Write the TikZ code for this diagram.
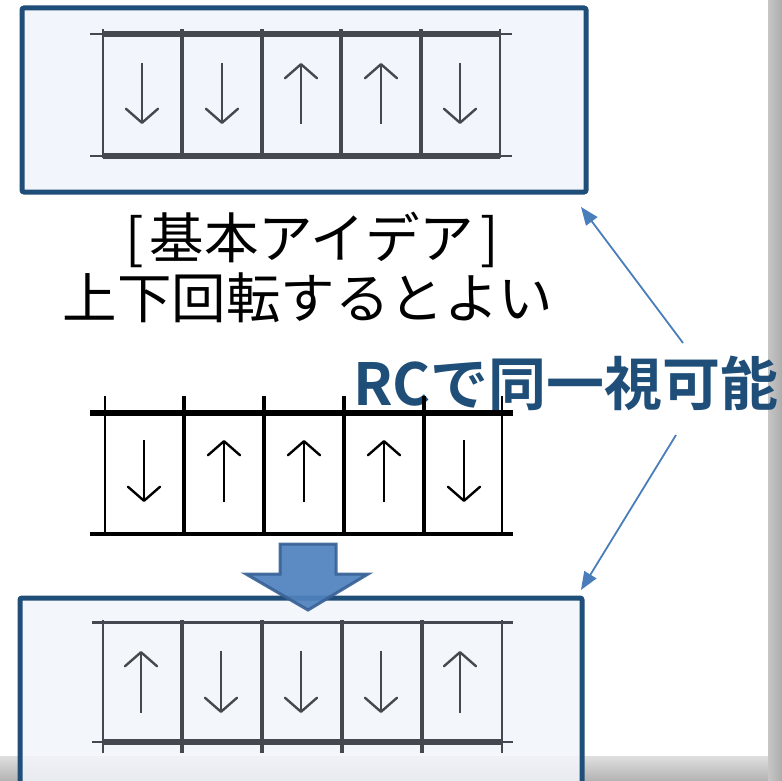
\documentclass[tikz,border=0pt]{standalone}
\usepackage{fontspec}
\setmainfont{Noto Sans CJK JP}[BoldFont={Noto Sans CJK JP Bold}]
\usetikzlibrary{arrows.meta}
\definecolor{boxblue}{HTML}{1F4E79}
\definecolor{boxfill}{HTML}{F2F5FB}
\definecolor{ladgray}{HTML}{45484E}
\definecolor{linkblue}{HTML}{4A7EBB}
\definecolor{fatfill}{HTML}{4F81BD}
\definecolor{fatline}{HTML}{3A6397}
\begin{document}
\begin{tikzpicture}[x=1pt,y=-1pt,
  bigbox/.style={draw=boxblue, line width=5pt, fill=boxfill, rounded corners=2pt, inner sep=0pt},
  cellarrow/.style={line width=2pt, -{Straight Barb[length=14pt,width=32pt,line width=2.4pt,round]}},
  linkarrow/.style={draw=linkblue, line width=1.8pt, -{Triangle[length=18pt,width=14pt]}},
  idea/.style={font=\fontsize{54.5}{62}\selectfont, inner sep=0pt},
  rclabel/.style={font=\fontsize{58}{66}\selectfont\bfseries, text=boxblue, inner sep=0pt}]
\useasboundingbox (0,0) rectangle (782,781);
\fill[white] (0,0) rectangle (782,781);
% frame bands
\shade[top color=gray!25, bottom color=gray!60] (0,756) rectangle (782,781);
\shade[left color=gray!45, right color=gray!65] (768,0) rectangle (782,781);

% top box
\node[bigbox, minimum width=564pt, minimum height=184pt] (topbox) at (304,100) {};
% top ladder
\begin{scope}[ladgray]
  \foreach \x in {182,262,341,421} \draw[line width=4pt] (\x,29) -- (\x,158);
  \foreach \x in {103,500} \draw[line width=2.5pt] (\x,29) -- (\x,158);
  \draw[line width=2pt] (90,34) -- (512,34);
  \draw[line width=5.5pt] (103,34) -- (500,34);
  \draw[line width=2pt] (90,156) -- (512,156);
  \draw[line width=5.5pt] (103,156) -- (500,156);
  \draw[cellarrow] (142,63) -- (142,124);
  \draw[cellarrow] (222,63) -- (222,124);
  \draw[cellarrow] (301,124) -- (301,63);
  \draw[cellarrow] (381,124) -- (381,63);
  \draw[cellarrow] (460,63) -- (460,124);
\end{scope}

% texts
\node[idea] (idea1) at (312,240) {[\hspace{6pt}基本アイデア\hspace{6pt}]};
\node[idea] (idea2) at (308,298) {上下回転するとよい};
\node[rclabel] (rc) at (566,383) {RCで同一視可能};

% middle ladder
\begin{scope}[black]
  \foreach \x in {184,264,344,424} \draw[line width=4pt] (\x,396) -- (\x,534);
  \foreach \x in {105,502} \draw[line width=2.5pt] (\x,396) -- (\x,534);
  \draw[line width=6pt] (90,413) -- (513,413);
  \draw[line width=4pt] (90,534) -- (513,534);
  \draw[cellarrow] (144,440) -- (144,502);
  \draw[cellarrow] (224,502) -- (224,440);
  \draw[cellarrow] (304,502) -- (304,440);
  \draw[cellarrow] (384,502) -- (384,440);
  \draw[cellarrow] (464,440) -- (464,502);
\end{scope}

% bottom box
\node[bigbox, fill opacity=0.85, minimum width=562pt, minimum height=206pt] (botbox) at (301,701) {};
\begin{scope}[ladgray]
  \foreach \x in {182,262,342,422} \draw[line width=4pt] (\x,620) -- (\x,753);
  \foreach \x in {103,502} \draw[line width=2.5pt] (\x,620) -- (\x,753);
  \draw[line width=3pt] (92,622) -- (513,622);
  \draw[line width=2pt] (92,742) -- (513,742);
  \draw[line width=6pt] (103,742) -- (502,742);
  \draw[cellarrow] (141,713) -- (141,651);
  \draw[cellarrow] (221,651) -- (221,713);
  \draw[cellarrow] (301,651) -- (301,713);
  \draw[cellarrow] (381,651) -- (381,713);
  \draw[cellarrow] (460,713) -- (460,651);
\end{scope}

% block arrow
\path[fill=fatfill, draw=fatline, line width=3pt, opacity=0.92]
  (280,544) -- (336,544) -- (336,574) -- (368,574) -- (308,610) -- (246,574) -- (280,574) -- cycle;

% link arrows
\coordinate (s1) at (683,343);
\coordinate (t1) at (581,207);
\coordinate (s2) at (676,435);
\coordinate (t2) at (581,590);
\draw[linkarrow] (s1) -- (t1);
\draw[linkarrow] (s2) -- (t2);
\end{tikzpicture}
\end{document}
